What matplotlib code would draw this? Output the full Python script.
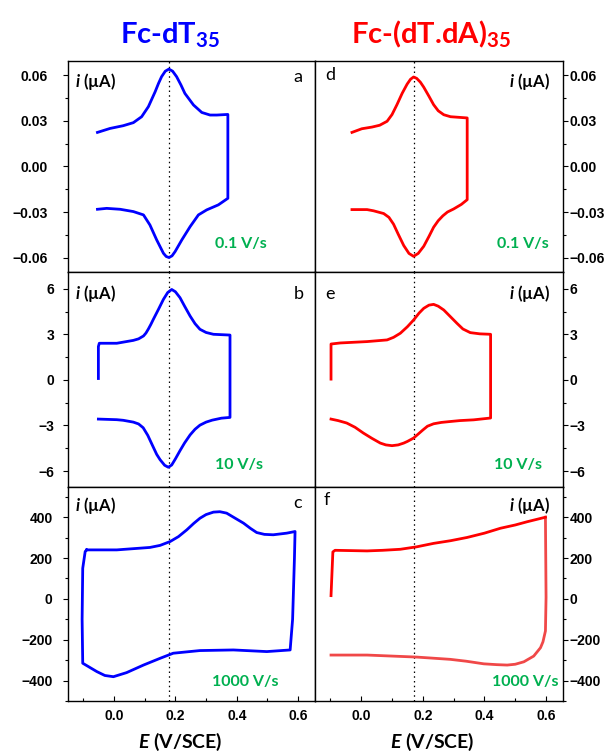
import numpy as np
import matplotlib
matplotlib.use('Agg')
import matplotlib.pyplot as plt
from matplotlib.ticker import MultipleLocator, FuncFormatter

plt.rcParams['font.family'] = 'Liberation Sans'
plt.rcParams['font.weight'] = 'bold'
plt.rcParams['mathtext.fontset'] = 'custom'
plt.rcParams['mathtext.rm'] = 'Lato:bold'
plt.rcParams['mathtext.bf'] = 'Lato:bold'
plt.rcParams['mathtext.it'] = 'Lato:italic:bold'
plt.rcParams['mathtext.bfit'] = 'Lato:italic:bold'

# ---- cyclic voltammograms, E in V/SCE, i in uA ----
# Fc-dT35, 0.1 V/s
a_E = [-0.054, -0.013, 0.030, 0.063, 0.090, 0.112, 0.134, 0.145, 0.155, 0.167, 0.179, 0.191,
       0.204, 0.218, 0.231, 0.259, 0.286, 0.313, 0.335, 0.371,
       0.371, 0.340, 0.302, 0.275, 0.248, 0.221, 0.199, 0.189, 0.179, 0.170, 0.161, 0.139,
       0.117, 0.096, 0.063, 0.020, -0.024, -0.054]
a_i = [0.0223, 0.0249, 0.0267, 0.0287, 0.0326, 0.0392, 0.0490, 0.0545, 0.0589, 0.0625, 0.0639,
       0.0625, 0.0589, 0.0535, 0.0479, 0.0403, 0.0354, 0.0337, 0.0337, 0.0341,
       -0.0210, -0.0253, -0.0286, -0.0319, -0.0396, -0.0483, -0.0560, -0.0588, -0.0599,
       -0.0592, -0.0571, -0.0483, -0.0385, -0.0319, -0.0297, -0.0282, -0.0276, -0.0282]

# Fc-dT35, 10 V/s
b_E = [-0.051, -0.051, -0.048, 0.009, 0.063, 0.080, 0.096, 0.104, 0.112, 0.120, 0.128, 0.145,
       0.161, 0.175, 0.188, 0.200, 0.215, 0.230, 0.248, 0.264, 0.280, 0.300, 0.324, 0.378,
       0.378, 0.350, 0.320, 0.300, 0.280, 0.264, 0.248, 0.230, 0.215, 0.200, 0.188, 0.177,
       0.165, 0.150, 0.139, 0.125, 0.110, 0.095, 0.080, 0.063, 0.030, 0.009, -0.051]
b_i = [0.09, 2.19, 2.41, 2.41, 2.60, 2.70, 2.89, 3.08, 3.35, 3.65, 3.98, 4.65, 5.30, 5.75, 5.95,
       5.80, 5.41, 4.85, 4.20, 3.70, 3.33, 3.12, 3.00, 2.95,
       -2.47, -2.52, -2.65, -2.78, -2.98, -3.25, -3.62, -4.15, -4.66, -5.20, -5.60, -5.75,
       -5.62, -5.25, -4.90, -4.30, -3.65, -3.15, -2.90, -2.78, -2.66, -2.62, -2.58]

# Fc-dT35, 1000 V/s
c_E = [-0.089, 0.009, 0.117, 0.150, 0.183, 0.210, 0.237, 0.260, 0.280, 0.300, 0.324, 0.345,
       0.367, 0.395, 0.422, 0.445, 0.465, 0.490, 0.519, 0.563, 0.590,
       0.588, 0.582, 0.574, 0.498, 0.389, 0.280, 0.193, 0.150, 0.096, 0.041, -0.002, -0.030,
       -0.056, -0.102, -0.104, -0.102, -0.094, -0.089]
c_i = [240, 240, 252, 262, 281, 305, 338, 370, 395, 413, 425, 427, 420, 395, 371, 345, 325, 316,
       314, 322, 330,
       200, -100, -250, -258, -250, -253, -266, -291, -324, -361, -381, -375, -356, -315, -100,
       150, 232, 240]

# Fc-(dT.dA)35, 0.1 V/s
d_E = [-0.030, 0.002, 0.035, 0.060, 0.084, 0.100, 0.116, 0.133, 0.149, 0.160, 0.170, 0.180,
       0.192, 0.203, 0.220, 0.235, 0.250, 0.268, 0.290, 0.344,
       0.344, 0.325, 0.300, 0.280, 0.265, 0.250, 0.235, 0.220, 0.203, 0.185, 0.170, 0.155,
       0.138, 0.120, 0.105, 0.090, 0.073, 0.040, 0.019, -0.030]
d_i = [0.0223, 0.0247, 0.0258, 0.0270, 0.0296, 0.0340, 0.0405, 0.0480, 0.0540, 0.0572, 0.0587,
       0.0578, 0.0553, 0.0520, 0.0460, 0.0405, 0.0365, 0.0339, 0.0326, 0.0318,
       -0.0219, -0.0250, -0.0280, -0.0300, -0.0325, -0.0357, -0.0400, -0.0460, -0.0525,
       -0.0572, -0.0591, -0.0572, -0.0520, -0.0445, -0.0380, -0.0335, -0.0310, -0.0292,
       -0.0284, -0.0284]

# Fc-(dT.dA)35, 10 V/s
e_E = [-0.098, -0.098, -0.068, 0.019, 0.084, 0.105, 0.127, 0.150, 0.170, 0.188, 0.203, 0.220,
       0.235, 0.250, 0.268, 0.290, 0.311, 0.330, 0.354, 0.385, 0.420,
       0.420, 0.365, 0.320, 0.289, 0.260, 0.235, 0.215, 0.200, 0.170, 0.150, 0.138, 0.120,
       0.100, 0.080, 0.062, 0.035, 0.007, -0.020, -0.047, -0.075, -0.098]
e_i = [0.05, 2.36, 2.43, 2.52, 2.63, 2.80, 3.07, 3.50, 3.94, 4.40, 4.71, 4.92, 4.97, 4.85, 4.60,
       4.15, 3.72, 3.35, 3.11, 3.03, 3.00,
       -2.51, -2.63, -2.68, -2.74, -2.80, -2.89, -3.05, -3.30, -3.83, -4.05, -4.16, -4.28,
       -4.33, -4.28, -4.16, -3.85, -3.50, -3.12, -2.84, -2.68, -2.58]

# Fc-(dT.dA)35, 1000 V/s (forward and return scans)
f_fwd_E = [-0.098, -0.092, -0.085, 0.019, 0.070, 0.127, 0.180, 0.235, 0.290, 0.344, 0.400,
           0.452, 0.500, 0.539, 0.598]
f_fwd_i = [16, 230, 238, 235, 238, 243, 255, 272, 285, 301, 322, 346, 362, 378, 400]
f_rev_E = [0.598, 0.600, 0.598, 0.590, 0.582, 0.560, 0.528, 0.500, 0.474, 0.440, 0.398, 0.340,
           0.289, 0.181, 0.100, 0.019, -0.098]
f_rev_i = [400, 8, -157, -210, -239, -280, -308, -320, -324, -322, -318, -305, -296, -285,
           -280, -275, -275]

scan_rates = ['0.1 V/s', '10 V/s', '1000 V/s']
letters_left = ['a', 'b', 'c']
letters_right = ['d', 'e', 'f']
E0_left, E0_right = 0.18, 0.17

ylims = [(-0.0694, 0.0692), (-7.05, 7.1), (-500, 548)]
ymajor = [0.03, 3, 200]
ydec = [2, 0, 0]
left_pad = [11.0, 6.5, 7.5]

W, H = 613, 753
fig = plt.figure(figsize=(W / 100, H / 100), dpi=100)


def px(x, y):
    return x / W, 1 - y / H


def minus_fmt(nd):
    def f(v, pos):
        s = f'{v:.{nd}f}'
        if float(s) == 0:
            s = s.lstrip('-')
        return s.replace('-', '\u2212')
    return FuncFormatter(f)


rows = [(61, 272), (272, 487), (487, 701)]
cols = [(68, 315), (315, 563)]
BLUE, RED, GREEN = '#0000FF', '#FF0000', '#00B050'
LATO = 'Lato'

left_data = [(a_E, a_i), (b_E, b_i), (c_E, c_i)]
right_data = [(d_E, d_i), (e_E, e_i), None]

for r, (top, bot) in enumerate(rows):
    for c, (x0, x1) in enumerate(cols):
        ax = fig.add_axes([x0 / W, 1 - bot / H, (x1 - x0) / W, (bot - top) / H])
        ax.set_xlim(-0.15, 0.655)
        ax.set_ylim(*ylims[r])
        for s in ax.spines.values():
            s.set_linewidth(1.0)
        ax.xaxis.set_major_locator(MultipleLocator(0.2))
        ax.xaxis.set_minor_locator(MultipleLocator(0.1))
        ax.xaxis.set_major_formatter(minus_fmt(1))
        ax.yaxis.set_major_locator(MultipleLocator(ymajor[r]))
        ax.yaxis.set_minor_locator(MultipleLocator(ymajor[r] / 2))
        ax.yaxis.set_major_formatter(minus_fmt(ydec[r]))
        ax.tick_params(axis='x', which='both', direction='in', top=False,
                       bottom=(r == 2), labelbottom=(r == 2), labelsize=10, pad=6)
        ax.tick_params(axis='x', which='major', length=3.5, width=0.8)
        ax.tick_params(axis='x', which='minor', length=2.2, width=0.8)
        if c == 0:
            ax.tick_params(axis='y', which='both', direction='out', left=True, right=False,
                           labelleft=True, labelright=False, labelsize=10, pad=left_pad[r])
        else:
            ax.tick_params(axis='y', which='both', direction='out', left=False, right=True,
                           labelleft=False, labelright=True, labelsize=10, pad=1)
        ax.tick_params(axis='y', which='major', length=3.5, width=0.8)
        ax.tick_params(axis='y', which='minor', length=2.2, width=0.8)

        ax.axvline(E0_left if c == 0 else E0_right, color='k', lw=0.9, ls=(0, (1.2, 2.6)))

        if c == 0:
            E, i = left_data[r]
            ax.plot(E, i, color=BLUE, lw=2.0, solid_joinstyle='round')
        elif right_data[r] is not None:
            E, i = right_data[r]
            ax.plot(E, i, color=RED, lw=2.0, solid_joinstyle='round')
        else:
            ax.plot(f_rev_E, f_rev_i, color='#F04848', lw=2.0, solid_joinstyle='round')
            ax.plot(f_fwd_E, f_fwd_i, color=RED, lw=2.0, solid_joinstyle='round')

# in-panel labels
ilab = r'$\mathbfit{i}$ (µA)'
for y in [82, 294, 506]:
    fig.text(*px(75, y), ilab, family=LATO, weight='bold', fontsize=12, ha='left', va='center')
for y in [81, 294, 505]:
    fig.text(*px(550, y), ilab, family=LATO, weight='bold', fontsize=12, ha='right', va='center')

for let, (x, y) in zip(letters_left, [(298, 77), (299, 294), (298, 503)]):
    fig.text(*px(x, y), let, family=LATO, weight='normal', fontsize=13, ha='center', va='center')
for let, (x, y) in zip(letters_right, [(330, 75), (330, 294), (327, 500)]):
    fig.text(*px(x, y), let, family=LATO, weight='normal', fontsize=13, ha='center', va='center')

for txt, (x, y) in zip(scan_rates, [(215, 244), (215, 465), (212, 682)]):
    fig.text(*px(x, y), txt, family=LATO, weight='bold', fontsize=11.5, color=GREEN,
             ha='left', va='center')
for txt, (x, y) in zip(scan_rates, [(549, 244), (542, 465), (558, 682)]):
    fig.text(*px(x, y), txt, family=LATO, weight='bold', fontsize=11.5, color=GREEN,
             ha='right', va='center')

# column titles
fig.text(*px(170, 43), r'Fc-dT$_{\mathbf{35}}$', family=LATO, weight='bold', fontsize=21,
         color=BLUE, ha='center', va='baseline')
fig.text(*px(431, 43), r'Fc-(dT.dA)$_{\mathbf{35}}$', family=LATO, weight='bold', fontsize=21,
         color=RED, ha='center', va='baseline')

# potential axis labels
xlab = r'$\mathbfit{E}$ (V/SCE)'
fig.text(*px(180, 748), xlab, family=LATO, weight='bold', fontsize=14, ha='center', va='baseline')
fig.text(*px(432, 748), xlab, family=LATO, weight='bold', fontsize=14, ha='center', va='baseline')

fig.savefig('out.png', dpi=100)
